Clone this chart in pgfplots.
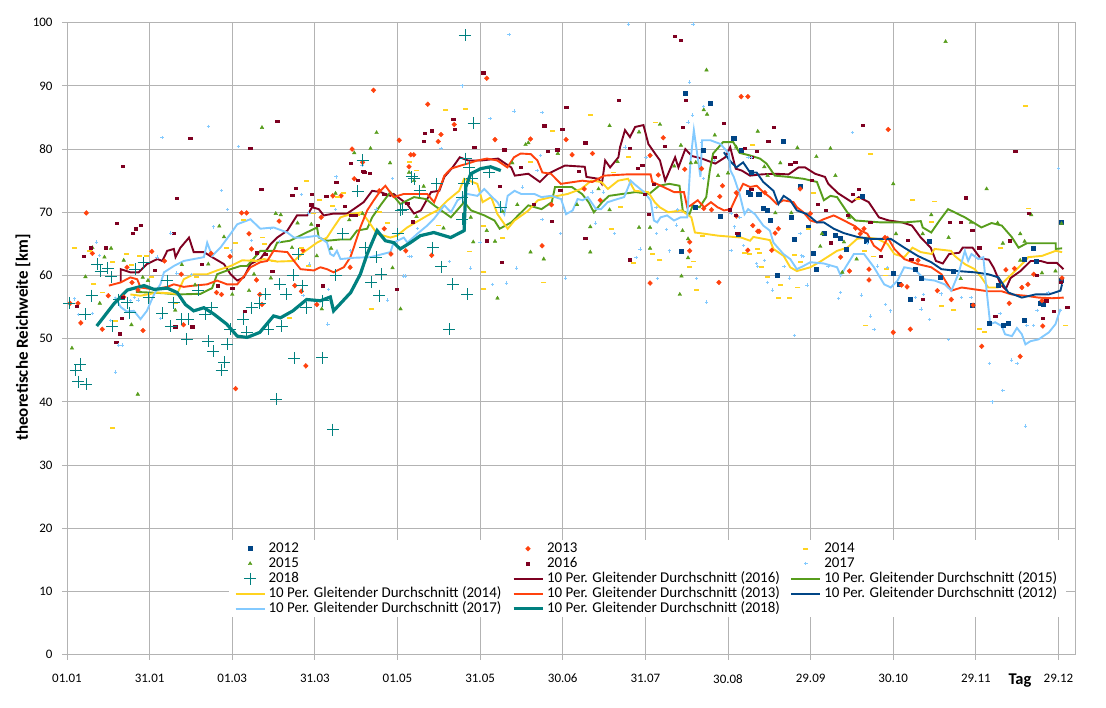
\documentclass[border=0pt]{standalone}
\usepackage{pgfplots}
\pgfplotsset{compat=1.18}
\usepackage{fontspec}
\setmainfont{Carlito}
\definecolor{cA}{HTML}{004586}
\definecolor{cB}{HTML}{FF420E}
\definecolor{cC}{HTML}{FFD320}
\definecolor{cD}{HTML}{579D1C}
\definecolor{cE}{HTML}{7E0021}
\definecolor{cF}{HTML}{83CAFF}
\definecolor{cG}{HTML}{00807F}
\definecolor{gridgray}{HTML}{B3B3B3}
\begin{document}
\begin{tikzpicture}[x=1bp,y=1bp]
\useasboundingbox (0,0) rectangle (1106,708);
\begin{axis}[
  at={(67bp,53.3bp)}, anchor=south west,
  scale only axis, width=1008bp, height=632bp,
  xmin=0, xmax=366, ymin=0, ymax=100,
  xtick={0,30,60,90,120,150,180,210,240,270,300,330,360},
  xticklabels={01.01,31.01,01.03,31.03,01.05,31.05,30.06,31.07,30.08,29.09,30.10,29.11,29.12},
  ytick={0,10,...,100},
  /pgf/number format/assume math mode=true,
  grid=major,
  major grid style={gridgray, line width=0.8bp},
  axis line style={gridgray, line width=0.8bp},
  tick style={gridgray, line width=0.8bp},
  tick align=outside, major tick length=5bp,
  xtick pos=bottom, ytick pos=left,
  ticklabel style={font=\fontsize{13}{15}\selectfont},
  xticklabel style={yshift=-11bp},
  yticklabel style={xshift=-6bp},
  xlabel={Tag},
  xlabel style={at={(rel axis cs:0.9454,0)}, anchor=center, yshift=-26bp, font=\bfseries\fontsize{16.5}{18}\selectfont},
  ylabel={theoretische Reichweite [km]},
  ylabel style={at={(axis description cs:-0.0437,0.502)}, anchor=center, font=\bfseries\fontsize{17}{19}\selectfont},
  legend columns=3,
  legend cell align=left,
  legend image code/.code={\draw[mark repeat=2,mark phase=2,#1] plot coordinates {(0bp,0bp) (14.5bp,0bp) (29bp,0bp)};},
  legend style={at={(0.1602,0.1815)}, anchor=north west, draw=none, fill=white,
    font=\fontsize{15}{17}\selectfont, inner xsep=6bp, inner ysep=1bp,
    nodes={inner ysep=0.75bp, inner xsep=3bp, text height=10.5bp, text depth=3bp},
    /tikz/every even column/.append style={column sep=7.5bp}},
]
% ---------------- scatter ----------------
\addplot[only marks, mark=square*, mark size=2bp, color=cA] coordinates {
(224.3,88.9)(233.4,87.3)(241.8,81.7)(231,79.8)(244.8,79.8)(248.4,76.3)(247.2,73.2)(228.2,70.8)(237,69.4)(250.8,72.8)(223.1,63.9)(243.6,66.6)
(242.1,81.7)(259.9,81.3)(248,72.9)(251.3,72.8)(252.8,70.6)(254.1,70.4)(255.2,68.7)(263,69.3)(266.2,74.1)(269,67.6)(264,65.8)(274.8,66.7)(279,66.3)(280.6,65.9)(270.9,63.5)(272.1,61)(283,64.1)(288.9,72.5)(290,65.5)(258,60)(299.8,60.3)(302.2,58.6)(306.1,56.3)(307.9,61)(310.1,59.6)(312.9,65.4)(316.9,59.7)(321.7,60.6)(328.7,55.3)(334.8,52.5)(338,58.4)(339.8,52.1)(341.8,52.5)(347.7,52.9)(347.6,62.6)(350.7,64.3)(351.8,62.2)(354.6,55.5)(353.4,55.6)(361.1,59.2)(361.1,68.4)
};
\addlegendentry{2012}
\addplot[only marks, mark=diamond*, mark size=2.4bp, mark options={xscale=1.3}, color=cB] coordinates {
(7,69.9)(9.2,63.5)(1.1,55.6)(4,55.6)(5,52.5)(12.8,51.5)(15,56.8)(20.6,56.6)(21.8,61.3)(23.6,58.9)(25.8,57.7)(27.6,51.3)(30.8,63.8)(35.4,62.3)(41.5,60.2)(42.3,52.2)(52.3,63.5)(54.3,57.3)(56.1,57)(59.2,63)(61.2,42.1)(63.4,69.9)(65.2,69.9)(66.1,66.6)(67,64.2)(68.8,59.3)(70,57)(70.8,55.4)(77,68.6)(82.7,58.4)(85.7,64)(85.1,57.5)(86.7,45.7)(90.7,55.4)(92.3,69.2)(96.5,72.6)(99.5,72.6)(102.8,61.3)(103.5,80)(104.3,75.3)(107.3,77.9)(111.3,89.3)(113.4,73.4)(115.2,67.4)(117.6,63.4)(120.6,81.4)(124.2,77.2)(124.8,79.1)(123,63.9)
(125.9,79.1)(131,87.1)(134.8,81.2)(135.8,82.3)(140.6,83.9)(132.4,63.2)(152.4,91.2)(155.4,81.5)(168.3,81.6)(181.2,81.5)(183.4,79.1)(190.8,79.3)(175.9,71.2)(172.5,64.7)(187.8,73.7)(193.6,71.9)(211.7,79)(216.5,81.8)(214.7,75.9)(211.7,58.8)(224.3,76.8)(226.1,65.3)(226.1,63.9)(230.4,76.9)(231.2,70.6)(234,70.4)(236.7,58.9)(237,72.5)(238,74.2)(244.8,88.3)(247.2,88.3)(247.2,64)(249,67.9)(250.8,67)
(243,73.1)(253.4,73.1)(251.3,67)(257.1,66.7)(258.3,67.4)(255.9,64)(266.2,73.7)(269.9,69.8)(243,69.4)(280.9,62.9)(284.1,60.7)(286.3,67.5)(288,66.6)(289.4,67.4)(291.2,61)(291.2,59.3)(297,66)(298.2,83.1)(300,51)(303,58.5)(305,58.2)(306.2,51.5)(309,62.4)(316,57.6)(321.1,56.2)(329,55.3)(332.1,48.8)(340.9,60.9)(342.1,55.6)(344,61.1)(346.1,47.2)(346.7,58.1)(348.9,58.6)(351,60.2)(354,56)(354.3,52)(361.3,59.6)
};
\addlegendentry{2013}
\addplot[only marks, mark=-, mark size=2.5bp, line width=1.8bp, color=cC] coordinates {
(2.8,64.4)(8,63.9)(9.8,58.6)(12.8,57.3)(16.6,62.1)(21.6,63.4)(26.4,63.1)(28.7,63.1)(30.8,59.8)(16.6,35.9)(17.6,52.8)(23.6,61.6)(39.3,55.6)(47.1,59.7)(58,64.4)(61,65.2)(64,68.8)(67.3,62.4)(70.9,66)(71.6,65)(74.8,62.3)(80.8,53.3)(85.1,64.4)(86.9,75)(87.8,61.5)(89.6,69.8)(91.7,71.9)(96.5,71)(98.3,72.4)(100.4,73)(105.3,69.6)(110.4,54.7)(113.6,70)(116.4,68.3)(124.2,77.9)(126.9,76.6)(126.3,68.4)
(137.6,86.2)(144.6,86.4)(134.9,67.9)(146,63.8)(151.4,67.8)(151.4,60.5)(151.4,57.8)(158.3,65.9)(168.3,77.9)(176.1,82.8)(190,85.4)(203.9,78.7)(198.4,76.3)(197.6,67.3)(200.8,70.8)(205.7,62)(212.5,63.4)(215.3,62.5)(213.5,84.2)(173.1,58.9)(227.3,62.2)(226.1,61.4)(228.5,57.7)(230.9,66.3)(246,63.5)(247.8,63.4)(249,80.7)(250.8,64.2)
(251.3,63.5)(252.2,61.4)(254.3,59.7)(258.3,56.5)(262.3,56.4)(259,58.5)(264.1,63.3)(265.4,58.1)(266.2,62.1)(269.3,67.4)(271.1,73)(291.8,79.2)(286.9,72.1)(307.1,72)(315,71.7)(313.8,68.4)(289.4,63.9)(293,63)(297.1,60)(297.6,61)(289.9,52.1)(317.4,55.2)(322,54.6)(331.2,51.5)(333,51)(339.1,64.4)(347.9,86.8)(349.1,70.6)(362.6,52.1)
};
\addlegendentry{2014}
\addplot[only marks, mark=triangle*, mark size=2.1bp, color=cD] coordinates {
(1.8,48.5)(25.7,41.2)(6.7,59.8)(9.2,64.4)(11.9,55.6)(13.6,62.9)(16,64.3)(20.6,62.4)(23.4,52.2)(27.5,59.7)(29.4,59.2)(39.3,54.5)(41.7,61.7)(46.5,58.5)(51.3,61.8)(55.3,67.8)(57,66.1)(60,57)(66.1,57.6)(67.9,60.2)(70.8,83.4)(74,59.6)(75.8,69.8)(77.6,69.6)(81.7,64.4)(83.7,68.3)(88.7,68.1)(90.7,63.1)(92.5,54.7)(95.9,64.3)(97.5,73)(102.5,68.8)(104.3,79.4)(107.3,69.8)(110.2,80.1)(112.4,82.6)(117.3,77.8)(118.2,61.2)(121.1,54.7)(124.2,76.3)(126,75)(126.9,69.3)
(129.5,74.1)(136.7,67.5)(146.6,69.2)(147.5,65.3)(152.4,67.1)(155.4,65.4)(156.3,56.4)(158.2,70.1)(161.7,77.8)(163.5,71.2)(166.5,80.7)(167.5,81)(168.3,63.7)(173.1,62.6)(178.2,79.3)(185.2,71.2)(190,67.7)(190,63.7)(193,73.7)(197,70.4)(197,83.7)(199.9,78)(207.7,82.7)(207.7,67.6)(211.7,67.6)(211.7,64.3)(215.3,83.9)(220.5,77.3)(222.9,80.6)(223.1,59.9)(222.5,57)(223.5,67.1)(225.5,65.8)(225.5,62.8)(226.5,77.8)(228.3,77.9)(231.2,86.2)(232.2,92.5)(232.4,85.5)(235.2,82.2)(236.4,75.8)(240,76.2)(243,80.3)(250.8,82.8)
(259,77.8)(253.2,77.2)(254.4,75.8)(265.2,80.2)(272.1,78.8)(277.2,80.1)(279,75.8)(257.2,69.9)(263,69.9)(274.1,66.6)(273.5,64.6)(282.1,65.3)(286.7,62.6)(281.5,60.5)(284,69.2)(300,74.5)(301,66.6)(310.7,66.6)(313.8,69.6)(320.1,66)(319,97)(324.5,59.5)(328.2,68.4)(333.9,73.7)(337.9,68.3)(339.8,65.1)(346.1,66.6)(346.1,62.4)(347.7,65.4)(350.1,69.6)(354,60.4)(358.9,60.7)(361.1,68.2)
};
\addlegendentry{2015}
\addplot[only marks, mark=square*, mark size=1.1bp, mark options={xscale=1.5}, color=cE] coordinates {
(20.2,77.3)(39.9,72.2)(44.7,81.7)(66.5,80.2)(76.3,84.4)(70.5,73.6)(83,73.8)(88.8,72.8)(81.8,72.7)(88.7,71.2)(97.7,74.8)(100.8,70.9)(102.9,77.8)(107.6,76.5)(109.8,76.2)(18,68.3)(23.9,66.7)(25,67.4)(26.8,67.9)(14,64.4)(6.1,63.1)(8.6,64.4)(3.4,55.2)(20.3,56.6)(19.2,50.8)(17.9,49.4)(19.8,53.3)(31.8,60.8)(38.7,66.7)(39.3,51.9)(45.5,51.9)(48.9,61.8)(54.6,58.4)(60,58)(64.4,54.3)(68.8,63.6)(72,63.4)(74.5,60.7)(91.1,67.9)(92.9,58.4)(94.1,72.6)(102.9,69.6)(104.6,69.6)(105.5,75.1)(107.9,76.3)(115.2,72.8)(119.6,57.8)(123.5,71.4)(125.4,68.5)
(151.1,92.1)(132.4,82.9)(130,82.5)(129.5,81.3)(140.8,83.1)(140.2,84.7)(147.8,80.3)(173.3,83.7)(179.8,83.1)(181.2,86.6)(174.6,79.7)(178,79.9)(179.1,73.5)(185.8,76.5)(188.2,81)(200.2,87.7)(204.2,80.2)(208.9,77.4)(207.1,77)(220.7,97.9)(222.9,97.2)(224.7,87.7)(223.5,83.5)(216.9,80.5)(212.9,74.5)(209.7,72.8)(211.1,69.7)(204.2,62.5)(188.2,65.9)(175.9,68.6)(158.7,79.9)(169.5,71.3)(164.7,77.1)(152.4,65.5)(157.1,74.1)(157.9,62.1)(238.4,84.1)(235.2,78.7)(240.5,70.4)(242.8,69.6)(243.3,66.7)(250.5,79.7)(248.4,73.7)
(256.5,83.5)(254.6,81.2)(248.5,78.7)(246.1,80.1)(262.6,77.6)(264.4,77.9)(270.4,75.1)(272.6,71.3)(275.4,70.3)(277.4,65.2)(283.5,69.6)(287.5,73.7)(288.8,83.8)(285.4,72.9)(291.6,68.4)(295.5,63)(306.5,62.6)(305.2,65.6)(310.7,56.3)(320.5,68.4)(324.5,68.4)(326.3,72.3)(328.7,67.2)(331.2,64.4)(337,53.6)(344.3,79.7)(342.4,65.5)(349.1,69.8)(352.2,60)(354.3,53.2)(355.5,56)(358.3,54.4)(363.2,55)(360.7,59)
};
\addlegendentry{2016}
\addplot[only marks, mark=+, mark size=1.7bp, line width=0.8bp, color=cF] coordinates {
(34.5,81.8)(51.3,83.6)(62.2,80.4)(56,73.4)(58.2,70.4)(53.1,67.7)(37.7,66.7)(10.7,65.3)(11.9,63.2)(2.8,56.3)(4.1,53.8)(9.2,54)(15.8,52.9)(17.6,44.7)(18.8,49)(20,49)(23,56)(24.5,56.5)(25.8,56.1)(32.7,62.9)(33.9,53.2)(39.9,60.4)(45.1,60.2)(59.8,63.9)(67,65.5)(74,67.4)(77.2,65.4)(85.1,72.8)(87.8,69.9)(85.7,56.8)(88.1,61.8)(94.7,52.3)(95,57.8)(97.7,75.6)(97.5,70.4)(102.9,63.9)(107.1,77.4)(112.2,70.5)(116.4,56.1)(118.2,75.3)(122.2,59.9)(124.2,63)(127.2,67.4)
(143.4,90)(160.5,98.1)(162.3,86)(153.6,84.8)(172.5,85.8)(135.8,80.1)(170.7,76.6)(165.3,74)(172.5,68.9)(179.2,66.6)(191.8,68.3)(198.8,66.6)(190.6,73.2)(194.8,73.2)(202.6,80.3)(208.1,64.2)(206.6,62.8)(203.9,99.8)(181,59.6)(171.9,79)(163.3,61.2)(159.5,58.8)(154.5,58.6)(146.6,61.2)(138.8,62.2)(124.9,63)(122.8,59.9)(150,65.2)(210.2,78.7)(213.9,70.8)(214.1,66.6)(217.7,67.3)(218.7,63.9)(214.3,59.5)(221.3,68)(221.7,70.4)(226.1,90.6)(227.3,99.8)(225.5,84.3)(227.1,85.4)(231.2,86.7)(230.4,81)(231.2,75.3)(228.6,59.5)(232.2,55.8)(241.1,64)(242.3,67.7)(245.7,64.7)(241.1,69.8)(250.8,61.4)(235.2,78.2)(248.4,78.7)
(285.1,82.6)(264.1,50.5)(244.3,69.2)(247.3,78.7)(250.4,61.9)(253.2,62.4)(254.3,58.9)(256.1,57.7)(260.4,61.4)(262.3,59.6)(266.2,66.6)(266.8,63.1)(267.2,63)(268.7,58.5)(276.3,61.4)(280.9,57.3)(280.2,56.4)(288.4,56.9)(290.6,65.1)(291.8,53.6)(293,51.5)(294.3,61.5)(297.9,61.3)(297.1,55.4)(299.1,54.4)(308,56.5)(310.1,54.7)(310.9,57)(313.2,53)(317.4,57.1)(320.1,49.9)(324.8,56.5)(328.2,56.5)(334.9,46.1)(335.9,40)(338.8,54)(339.8,41.8)(343,46.6)(344.9,46.1)(348,36.2)(348.5,52.1)(351,52.1)(352.2,54.5)(356.2,57.3)(360.1,76.9)(360.7,54.5)
};
\addlegendentry{2017}
\addplot[only marks, mark=+, mark size=6bp, line width=0.8bp, color=cG] coordinates {
(0.7,55.6)(3.1,45)(4.9,46)(4,43.2)(7,42.8)(6.7,53.9)(8.9,56.8)(11,61.8)(12.2,60.7)(14.8,61.2)(16,59.8)(16.4,52)(18.8,56.2)(21.8,55.7)(22.8,54.1)(24.8,61)(27.8,62)(29.6,56.5)(34.5,54)(36.3,59.2)(37.7,52)(38.7,55.7)(41.7,53.1)(43.5,49.9)(44.1,53.1)(47.7,57.7)(50.1,53.9)(51.3,49.6)(52.5,54.9)(53.1,48)(56.1,45)(57.1,46.3)(58.2,49.1)(59.2,51.5)(64,53.1)(65.2,51)(67,54.9)(70,55.6)(72,57)(73,51.5)(76,40.4)(77.2,58.6)(78,52)(79.6,57)(82.1,60)(82.6,46.9)(83.9,63.4)(85.4,58.4)(86.9,54.9)(92.7,47)(92.9,56)(96.5,35.6)(97.5,60)(100.1,66.6)(105.5,73.3)(107.3,78.2)(108.2,64.4)(110.4,58.9)(112.2,62.9)(113.4,56.8)(114,60.2)(120,66.6)(121.2,70.3)(121.9,70.5)(125.2,75.6)(126.1,75.3)(128,73.4)(132.8,64.4)(134.3,74.5)(135.8,61.4)(138.8,51.5)(140,58.6)(143.6,68.9)(143.6,72.4)(144.2,74.5)(144.5,98)(144.8,78.5)(145.4,57)(146,77.1)(147.2,75.3)(147.6,84.1)(153.3,76.3)(157.5,70.8)
};
\addlegendentry{2018}
% ---------------- moving averages ----------------
\addplot[no marks, line width=1.9bp, color=cE] coordinates {
(19.5,59)(19.5,61)(23,60.5)(26,60.5)(29,61.8)(32.8,62.6)(34.6,62.3)(36.4,63.9)(38.8,64.2)(39.4,62.9)(41.2,64.4)(44.3,66)(46,63.7)(49.7,63.7)(52.7,62.9)(57,61.8)(59.4,60.2)(61.8,59.2)(64.2,59.7)(66.6,61.8)(70.2,62.6)(74,65)(76.3,66)(80,67.1)(83.5,69.5)(87.2,69.5)(89,70.8)(91.4,70.5)(93.2,69.5)(96.8,69.8)(101.7,69.8)(104.1,70.5)(107.7,71.6)(110.8,73.4)(113.8,73.2)(117.4,72.6)(118.6,72.9)(123.5,71.3)(126,69.8)(128.5,70.3)(132.2,73.2)(135.2,73.4)(137,75.6)(140,77.1)(142.6,78.7)(145.6,78.2)(150.5,78.2)(156.5,78.5)(161.3,77.1)(162.6,75.8)(167.5,76.1)(171.7,74.8)(174.7,76.1)(180.8,77.4)(188,77.2)(188.6,75.6)(193,75.3)(194.2,74.5)(195.4,78.2)(197.2,77.1)(200.2,78.7)(200.8,80.3)(202.6,83)(204.4,81.9)(206.3,83.5)(209.3,83.8)(211.1,80.8)(213.5,79.3)(215.3,78.2)(217.2,75)(220.8,78.7)(222,77.1)(224.5,80)(226.9,78.9)(230.5,78.5)(235.4,77.7)(239,78.7)(240.8,80.3)(242.8,76.9)(245,76.6)(248,75.8)(252.2,76)(257,76.1)(262,76)(265.6,77.1)(268,77.1)(271.6,76.1)(275.2,75.6)(276.4,74.5)(280,73)(285,71.6)(287.5,72.4)(291.1,71.6)(294.8,69.2)(298.4,68.7)(303.2,68.4)(306.8,67.9)(310,66)(313.6,64.4)(315.5,62.3)(318,61.9)(320.3,63.4)(324,63.6)(325.2,64.4)(328.8,64.4)(331.7,62.7)(334.7,62.5)(336.5,61.2)(339,58.6)(340.8,57.8)(342.6,59.6)(346.2,60.7)(349.9,62.3)(353.5,62.3)(355.9,62)(359.4,62)(361.8,61)
};
\addlegendentry{10 Per. Gleitender Durchschnitt (2016)}
\addplot[no marks, line width=1.9bp, color=cD] coordinates {
(25,57.4)(30,57.3)(35,57.2)(40,57)(48.5,57.1)(52.7,58)(54.5,60.2)(59.4,61)(63,61.5)(65.4,61.5)(70.2,63.9)(75,63.9)(76.3,65.2)(81,65.5)(86,66.6)(90.8,67.6)(91.4,66)(94.4,65.5)(99.3,65.7)(102.9,65.7)(105.3,67.1)(109,67.4)(110.8,69.2)(113.8,71.1)(117.4,73.2)(121,71.3)(126,72.4)(130.3,72.1)(133.3,71.1)(139.4,69.2)(144.2,71.6)(146.7,70.3)(151.6,69.5)(155.2,68.7)(157.1,67.4)(161.3,68.4)(163.8,69.5)(167.5,71.1)(172.3,70.5)(176,71.6)(177.2,74)(183.3,74)(187,72.9)(189.4,71.6)(191.3,70)(194.3,71.6)(196.8,72.6)(201.6,72.9)(206.5,73.2)(211.4,72.9)(215,74.2)(218.7,74.5)(222.4,74.2)(223.6,70.2)(226,69.7)(227.2,71.1)(229.7,70.8)(232.1,72.4)(233.4,76.6)(234.6,79.3)(238.2,81.1)(241.9,81.1)(244.2,79.4)(247.9,79)(251.6,78.5)(254,77.7)(257,75.8)(261.9,75.6)(267.4,75.3)(272.3,74.8)(274.8,71.9)(277.2,72.6)(279.6,72.4)(283.3,70)(286.3,68.7)(295.5,68.4)(304,68.4)(310,68.6)(310.7,67.6)(313.8,66.8)(316.8,68.7)(319.9,70.5)(326,69.2)(332,67.6)(335.7,68.3)(339.4,67.9)(343,66.1)(345.5,64.4)(348.5,65.1)(359,65.1)(359,64.2)(361.3,64.3)
};
\addlegendentry{10 Per. Gleitender Durchschnitt (2015)}
\addplot[no marks, line width=1.9bp, color=cC] coordinates {
(23,57)(26.7,56.8)(32.8,57.3)(40,57.1)(42.4,59.4)(46,60.2)(50.9,60.2)(54.5,60.8)(59.4,61.5)(63.6,62.4)(69,62.3)(71.4,62.6)(76.3,62.2)(82.4,62.3)(86,63.7)(90.8,65.2)(94.4,66)(96.8,67.6)(99.3,69.2)(102.9,69.7)(107.1,70)(110.2,68.1)(112.6,66.6)(117.4,66)(119.8,66.3)(123.5,67.6)(127,68.5)(130.9,69.5)(134.5,70.3)(138.2,71.9)(142.4,73.4)(144.2,75.3)(149,74.5)(150.9,71.6)(154,72.4)(156.3,69.7)(160,67.4)(162.5,68.7)(167.3,70.2)(171,71.9)(175.8,72.4)(181.8,72.9)(186.7,73.7)(190.4,75)(194,74.8)(196.4,73.7)(200.1,75)(203.7,75.3)(206.1,73.4)(211,73.2)(213.4,71.6)(215.2,70.8)(218.3,70)(223.1,70.3)(226.7,69.2)(228,66.8)(231.5,66.6)(236.4,66.3)(244.8,66)(248,65.5)(249.2,66.1)(255.2,65.6)(256.5,64.2)(260.2,63.1)(262.6,61.3)(265,60.7)(269.9,61.3)(273.5,62.2)(279.6,63.9)(283.3,64.4)(286.9,65.8)(290.6,66)(294.2,65.8)(297.9,65)(300.4,63.4)(304,62.9)(307,64.4)(310,63.7)(313.9,63.4)(315,64.2)(321,63.9)(322.3,63.1)(326,61.8)(329.6,61)(332,59.7)(334.5,58.1)(338,58.1)(343,60.2)(347.9,62.3)(349,62.9)(354,63.1)(359,63.9)(361.3,63.7)
};
\addlegendentry{10 Per. Gleitender Durchschnitt (2014)}
\addplot[no marks, line width=1.9bp, color=cB] coordinates {
(15.2,58.4)(19.5,58.9)(23,59.7)(25.5,59.4)(26.7,58.1)(31.6,57.8)(36.4,58.2)(38.8,58.6)(42.4,58.2)(46,58.4)(50.9,58.6)(54.5,59.2)(58.1,58.6)(61.8,58.6)(64.8,60.2)(66.6,61.3)(70.2,62.1)(72.7,62.3)(75,63.9)(80,63.7)(82.4,62.3)(84.8,61)(89.6,60.8)(92,61.3)(94.4,61)(96.8,60.5)(100.5,61.3)(102.9,62.9)(104.1,64.4)(106.5,67.6)(109,70.3)(111.4,71.9)(113.8,73.4)(115.6,74.2)(118.6,72.4)(122.3,72.9)(126,72.9)(130.8,72.9)(133.3,71.6)(135.7,74.2)(137,75.8)(139.4,76.9)(143,77.4)(145.4,77.7)(149,78.2)(152.5,78.5)(156.2,78.2)(159.9,77.1)(162.3,78.7)(164.7,79.3)(168.4,79.2)(170.8,78.2)(172.6,76.3)(175.7,76.1)(179.3,74.5)(184.1,74.8)(187.1,75)(190.8,74.8)(195,75.8)(203.5,76)(211.9,76)(212.5,74.8)(215.6,74.2)(218,73.7)(220.4,73.2)(224,73.2)(225.2,70.8)(226.5,71.1)(229,71.9)(231.4,70.8)(233.8,71.6)(236.2,70.8)(238.6,70.3)(241,70.5)(243,72.4)(245.5,74.5)(248,74)(250.4,74.2)(252.8,73.2)(255.2,72.4)(257.7,71.3)(260.1,71.9)(263.8,71.6)(265,70.8)(267.4,70)(269.9,68.7)(272.3,68.4)(274.7,68.9)(278.4,69.5)(282.1,68.7)(285.7,67.9)(288.2,67.1)(290.6,66.6)(293,64.7)(295.5,63.9)(298,66)(300.4,64.2)(304,62.6)(308.9,61.8)(313.8,61.3)(317.5,60.2)(321.1,57.6)(324.8,58.1)(329.6,57.8)(334.5,57.5)(339.4,57.5)(343,57)(347.9,56.8)(352.8,56.5)(357.6,56.4)(361.9,56.5)
};
\addlegendentry{10 Per. Gleitender Durchschnitt (2013)}
\addplot[no marks, line width=1.9bp, color=cA] coordinates {
(238.5,79.5)(240.6,78.2)(243,77.1)(245.5,77.9)(248,76.3)(250.4,76.3)(252.8,74.8)(256.5,73.4)(258.3,71.3)(260.2,72.6)(262.6,71.9)(265,70.3)(268.7,69.7)(272.3,68.4)(274.8,68.4)(278.4,67.4)(282.1,66.7)(287,66.1)(291.8,65.8)(299.1,65.8)(304,64.4)(308.9,63.1)(313.8,62.1)(317.5,61)(323.5,60.7)(329.6,60.5)(334.5,60.2)(338.2,59.7)(341.8,57.3)(346.7,56.5)(351.6,57)(356.5,57)(360.7,57.6)(361.3,58.6)
};
\addlegendentry{10 Per. Gleitender Durchschnitt (2012)}
\addplot[no marks, line width=1.9bp, color=cF] coordinates {
(17.4,56.6)(19.5,55)(21.7,54.3)(24.3,54.4)(26.7,53.1)(29,54.4)(31.6,57)(33.9,58.6)(35.2,60.5)(38.8,61.5)(42.4,62.3)(46,62.6)(49.7,62.9)(50.9,65.2)(52.7,63.1)(55.7,64.4)(59.4,66.6)(61.8,68.1)(66.6,68.9)(70.2,67.4)(75,67.6)(80,66.8)(82.4,66)(86,66)(90.8,66.3)(94.4,65.2)(95.6,63.4)(96.8,63.1)(98,63.9)(99.3,62.6)(104.1,62.8)(110.2,62.9)(117.4,63.7)(118.6,65.2)(122.3,66)(123.6,65.2)(127.2,66.6)(130.8,67.9)(133.3,69)(137,71.1)(139.4,70)(141.8,71.9)(145.4,72.9)(149,72.6)(151.5,73.7)(153.9,72.6)(156.3,71.6)(158.8,69.7)(160,72.6)(162.5,73.4)(164.9,72.9)(169.7,72.9)(172.2,72.4)(175.8,72.6)(179.4,72.1)(181.2,69.7)(183.6,70.3)(185.4,72.1)(187.2,71.9)(189.1,72.4)(192.1,70.5)(193.9,70.5)(196.3,71.6)(199.9,72.1)(202.3,72.4)(204.7,75)(205.9,74.5)(209.5,73.2)(211.9,71.9)(213.1,68.7)(214.3,68.4)(215.5,69.2)(217.9,69.5)(220.4,68.7)(222.8,69.2)(225.2,69.2)(226.4,78.2)(227.6,83)(228.8,79.3)(230,75.6)(230.6,81.4)(233.6,81.4)(237.3,80.8)(240.3,79.3)(240.9,76.6)(242.1,75.6)(244.2,72.9)(246,69.7)(247.3,70.5)(249.8,69.7)(252.8,67.9)(255.2,67.1)(256.5,65.2)(260.1,63.4)(262.6,62.6)(265,61)(267.4,61.5)(269.9,62.1)(274.8,61.9)(279.6,61.3)(280.9,60)(282.7,61.3)(285.7,63.4)(289.4,63.4)(293,61.3)(296.7,58.6)(299.1,58.1)(301.6,59.2)(304,61.3)(307.7,61)(311.3,59.4)(315,59.2)(318.7,58.6)(321.1,57.6)(323.6,60.2)(326,63.9)(327.2,62.3)(328.4,63.4)(330.9,62.6)(332.7,62.9)(333.9,57.6)(335.2,52.3)(337,52.6)(339.4,52)(340.6,50.7)(343.1,50.4)(344.9,51.7)(346.7,50.7)(348,49.1)(349.8,49.6)(352.8,49.9)(356.5,51)(358.9,52.3)(360.7,54.7)
};
\addlegendentry{10 Per. Gleitender Durchschnitt (2017)}
\addplot[no marks, line width=3.2bp, color=cG] coordinates {
(10.8,52)(17,55.5)(21.9,57.7)(28,58.4)(31.6,57.8)(36.4,58)(40,57.3)(43,55.4)(46,54.4)(49.7,54.9)(53.3,53.9)(58,52.3)(61.8,50.4)(65.4,50.2)(70,51)(75,53.6)(77.5,53.3)(82,54.4)(87,56.2)(92,56)(95.6,56.6)(96.8,54.4)(103,57.3)(106.5,60.2)(109,63.4)(112.6,67.1)(115.6,65.5)(118.6,65.2)(121,64.2)(124.7,65.2)(128.3,66.3)(133.2,66.8)(139.3,66)(144.2,67.1)(144.8,74)(146.6,76.1)(150.2,76.9)(153.8,77.2)(157.5,76.6)
};
\addlegendentry{10 Per. Gleitender Durchschnitt (2018)}
\end{axis}
\end{tikzpicture}
\end{document}
